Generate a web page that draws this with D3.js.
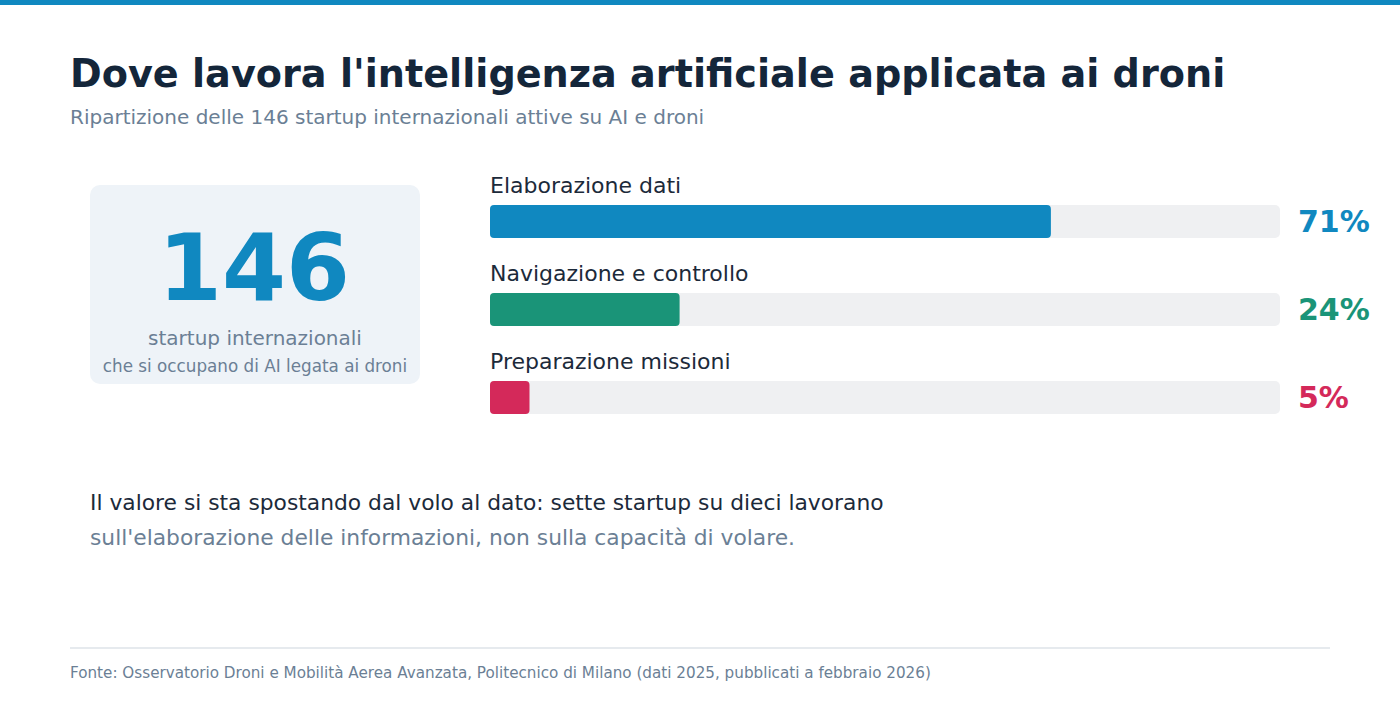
<!DOCTYPE html>
<html>
    <head>
        <meta charset="utf-8">
        <title>AI e droni</title>
        <script src="https://d3js.org/d3.v7.min.js"></script>
        <style>
            body { margin: 0; background: #ffffff; }
            text { font-family: "DejaVu Sans", sans-serif; }
        </style>
    </head>
    <body>
    </body>
    <script>
        var w = 1400;
        var h = 720;

        var categories = ["Elaborazione dati", "Navigazione e controllo", "Preparazione missioni"];
        var shares = [71, 24, 5];
        var colors = ["#1088c0", "#1a9478", "#d4295a"];
        var totalStartup = 146;

        var svg = d3.select("body")
                    .append("svg")
                    .attr("width", w)
                    .attr("height", h);

        // barra in alto
        svg.append("rect")
            .attr("x", 0).attr("y", 0)
            .attr("width", w).attr("height", 5)
            .attr("fill", "#1088c0");

        svg.append("text")
            .text("Dove lavora l'intelligenza artificiale applicata ai droni")
            .attr("x", 70).attr("y", 87)
            .attr("font-size", 38.2)
            .attr("font-weight", "bold")
            .attr("fill", "#14263a");

        svg.append("text")
            .text("Ripartizione delle " + totalStartup + " startup internazionali attive su AI e droni")
            .attr("x", 70).attr("y", 124)
            .attr("font-size", 20)
            .attr("fill", "#6b7f95");

        // riquadro con il totale
        svg.append("rect")
            .attr("x", 90).attr("y", 185)
            .attr("width", 330).attr("height", 199)
            .attr("rx", 10)
            .attr("fill", "#eef3f8");

        svg.append("text")
            .text(totalStartup)
            .attr("x", 254).attr("y", 300)
            .attr("text-anchor", "middle")
            .attr("font-size", 92)
            .attr("font-weight", "bold")
            .attr("fill", "#1088c0");

        svg.append("text")
            .text("startup internazionali")
            .attr("x", 255).attr("y", 345)
            .attr("text-anchor", "middle")
            .attr("font-size", 20)
            .attr("fill", "#6b7f95");

        svg.append("text")
            .text("che si occupano di AI legata ai droni")
            .attr("x", 255).attr("y", 372)
            .attr("text-anchor", "middle")
            .attr("font-size", 16.8)
            .attr("fill", "#6b7f95");

        // barre
        var x = d3.scaleLinear().domain([0, 100]).range([490, 1280]);
        var y = d3.scaleBand().domain(categories).range([205, 469]).paddingInner(0);
        var barH = 33;

        var rows = svg.selectAll("g.row")
            .data(categories)
            .enter()
            .append("g")
            .attr("class", "row")
            .attr("transform", function(d){ return "translate(0," + y(d) + ")"; });

        rows.append("text")
            .text(function(d){ return d; })
            .attr("x", x(0)).attr("y", -12)
            .attr("font-size", 22)
            .attr("fill", "#1c2a3a");

        rows.append("rect")
            .attr("x", x(0)).attr("y", 0)
            .attr("width", x(100) - x(0))
            .attr("height", barH)
            .attr("rx", 5)
            .attr("fill", "#eff0f2");

        rows.append("rect")
            .attr("x", x(0)).attr("y", 0)
            .attr("width", function(d, i){ return x(shares[i]) - x(0); })
            .attr("height", barH)
            .attr("rx", 4)
            .attr("fill", function(d, i){ return colors[i]; });

        rows.append("text")
            .text(function(d, i){ return shares[i] + "%"; })
            .attr("x", 1298).attr("y", 27)
            .attr("font-size", 30)
            .attr("font-weight", "bold")
            .attr("fill", function(d, i){ return colors[i]; });

        // commento
        svg.append("text")
            .text("Il valore si sta spostando dal volo al dato: sette startup su dieci lavorano")
            .attr("x", 90).attr("y", 510)
            .attr("font-size", 21.8)
            .attr("fill", "#1c2a3a");

        svg.append("text")
            .text("sull'elaborazione delle informazioni, non sulla capacità di volare.")
            .attr("x", 90).attr("y", 545)
            .attr("font-size", 21.8)
            .attr("fill", "#6b7f95");

        // fonte
        svg.append("line")
            .attr("x1", 70).attr("x2", 1330)
            .attr("y1", 648).attr("y2", 648)
            .attr("stroke", "#e6eaee")
            .attr("stroke-width", 2);

        svg.append("text")
            .text("Fonte: Osservatorio Droni e Mobilità Aerea Avanzata, Politecnico di Milano (dati 2025, pubblicati a febbraio 2026)")
            .attr("x", 70).attr("y", 678)
            .attr("font-size", 15.2)
            .attr("fill", "#6b7f95");
    </script>
</html>
